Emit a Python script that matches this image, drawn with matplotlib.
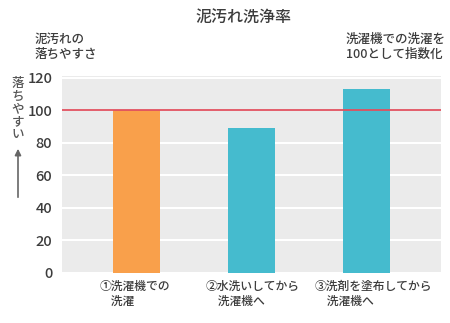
import matplotlib
matplotlib.use("Agg")
import matplotlib.pyplot as plt
from matplotlib.transforms import ScaledTranslation

plt.rcParams['font.family'] = ['Noto Sans CJK JP', 'DejaVu Sans']
plt.rcParams['font.weight'] = 'medium'

categories = ["①洗濯機での\n　洗濯", "②水洗いしてから\n　洗濯機へ", "③洗剤を塗布してから\n　洗濯機へ"]
values = [100, 89, 113]
bar_colors = ["#F9A04B", "#45BBCE", "#45BBCE"]
baseline = 100
yticks = [0, 20, 40, 60, 80, 100, 120]

TXT = "#3c3c3c"

fig = plt.figure(figsize=(4.5, 3.23), dpi=100)
ax = fig.add_axes([62 / 450, 1 - 273 / 323, 379 / 450, 197 / 323])
ax.set_facecolor("#EBEBEB")

x = list(range(len(values)))
ax.bar(x, values, width=0.41, color=bar_colors, zorder=3)
ax.axhline(baseline, color="#E0505F", lw=1.3, zorder=4)

ax.set_xlim(-0.65, 2.65)
ax.set_ylim(0, 121)
ax.set_yticks(yticks)
ax.set_yticklabels([str(v) for v in yticks], fontsize=10.5, color=TXT)
ax.yaxis.grid(True, color="white", lw=1.5, zorder=1)
ax.set_axisbelow(True)
ax.tick_params(axis="y", length=0, pad=7)
ax.tick_params(axis="x", length=0, pad=5)
ax.set_xticks(x)
ax.set_xticklabels(categories, fontsize=8.5, color=TXT, multialignment="left",
                   linespacing=1.15)
# nudge the long labels a little to the right
for lab, dx in zip(ax.get_xticklabels(), [-2, 1, 7]):
    lab.set_transform(lab.get_transform() + ScaledTranslation(dx / 100, 0, fig.dpi_scale_trans))
for s in ax.spines.values():
    s.set_visible(False)

fig.text(244 / 450, 1 - 17 / 323, "泥汚れ洗浄率", fontsize=11.5, color=TXT,
         ha="center", va="center")
fig.text(35 / 450, 1 - 47 / 323, "泥汚れの\n落ちやすさ", fontsize=9, color=TXT,
         ha="left", va="center", linespacing=1.2)
fig.text(346 / 450, 1 - 47 / 323, "洗濯機での洗濯を\n100として指数化", fontsize=9,
         color=TXT, ha="left", va="center", linespacing=1.2)

# vertical caption with an upward arrow beneath it
fig.text(18 / 450, 1 - 109 / 323, "\n".join("落ちやすい"), fontsize=9, color="#555555",
         ha="center", va="center", linespacing=1.0)
fig.add_artist(matplotlib.patches.FancyArrowPatch(
    (18 / 450, 1 - 200 / 323), (18 / 450, 1 - 146 / 323),
    transform=fig.transFigure, arrowstyle="-|>", mutation_scale=9,
    color="#666666", lw=1.2))

fig.savefig("out.png", dpi=100)
